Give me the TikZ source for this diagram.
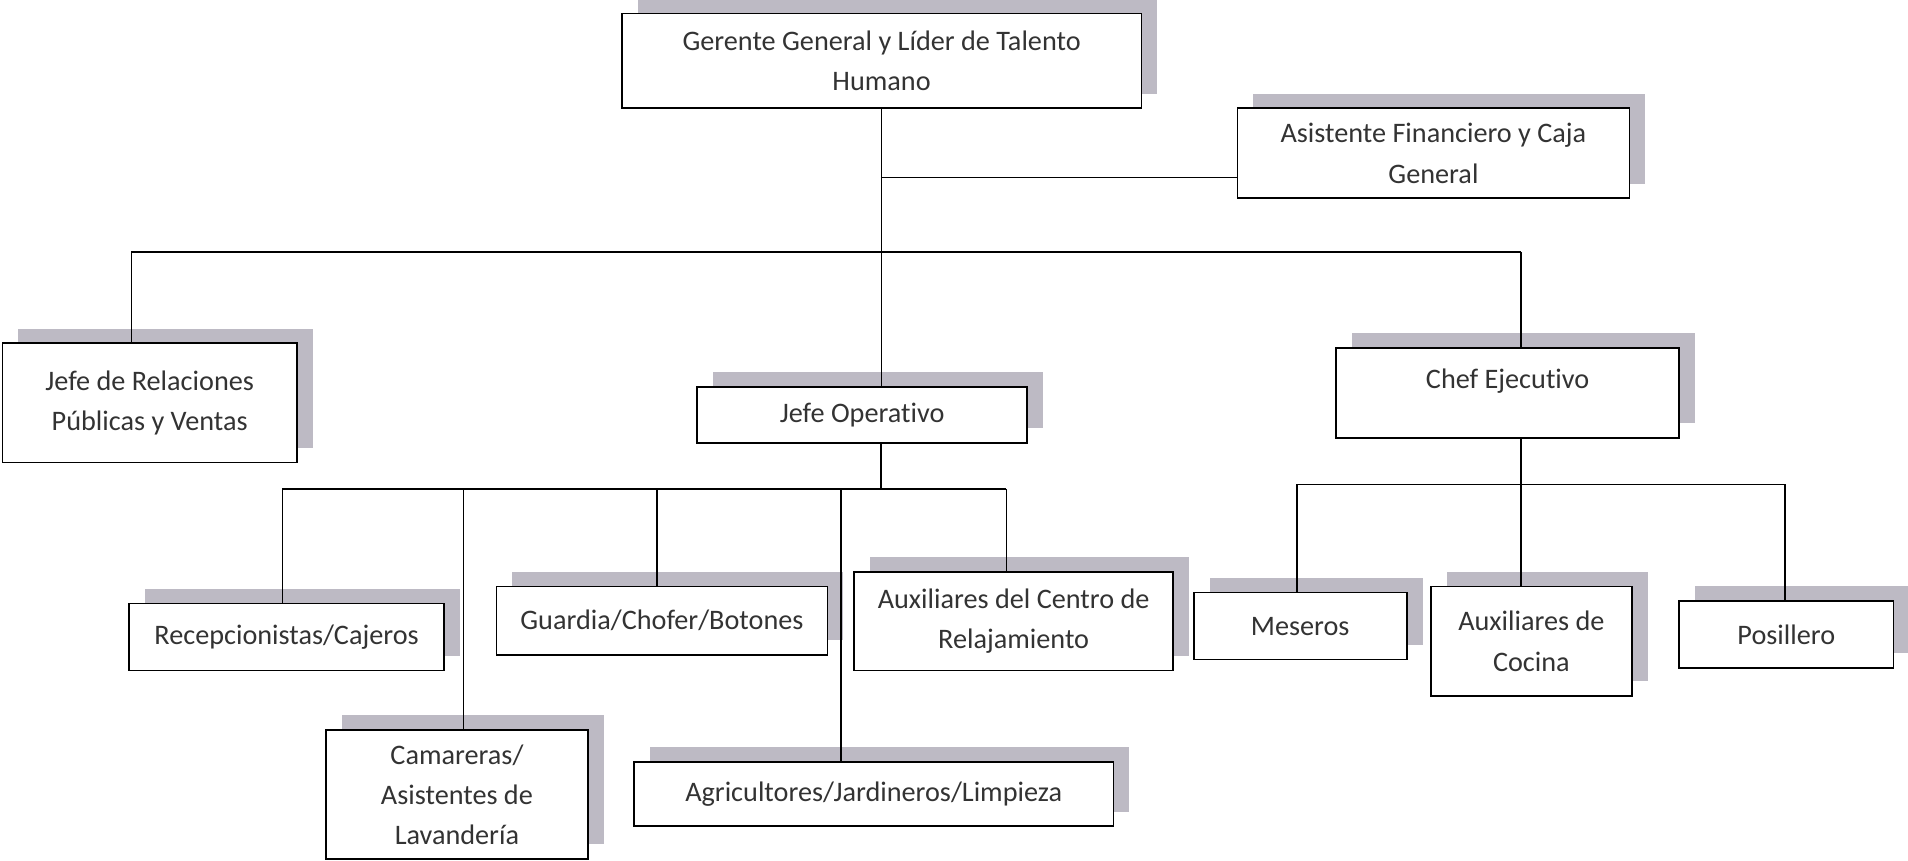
\documentclass[tikz,border=0pt]{standalone}
\usepackage{fontspec}
\setmainfont{Carlito}[Ligatures=NoCommon]
\usetikzlibrary{shadows}
\definecolor{cS}{rgb}{0.74, 0.73, 0.77}
\definecolor{cT}{rgb}{0.2, 0.2, 0.2}
\newcommand{\cajafont}{\fontsize{16.5}{23.5}\selectfont}
\tikzset{caja/.style={
  shape=rectangle,
  draw=black,
  fill=white,
  line width=1pt,
  align=center,
  inner sep=0pt,
  text=cT,
  font=\cajafont,
  general shadow={fill=cS, shadow xshift=0.325cm, shadow yshift=0.3cm},
  }
}
\tikzset{linea/.style={
  draw=black,
  line width=0.8pt,
  }
}

\begin{document}
\begin{tikzpicture}[x=0.025cm, y=-0.025cm]
  \useasboundingbox (0,0) rectangle (1568,707);

  \node [caja, minimum width=10.675cm, minimum height=1.95cm] (gerente) at (724.5,50) {Gerente General y Líder de Talento\\Humano};
  \node [caja, minimum width=8.05cm, minimum height=1.85cm] (asistente) at (1178,126) {Asistente Financiero y Caja\\General};
  \node [caja, minimum width=6.05cm, minimum height=2.45cm] (relaciones) at (123,331) {Jefe de Relaciones\\Públicas y Ventas};
  \node [caja, minimum width=6.775cm, minimum height=1.15cm] (operativo) at (708.5,341) {Jefe Operativo};
  \node [caja, minimum width=7.05cm, minimum height=1.85cm] (chef) at (1239,323) {Chef Ejecutivo\\[-7pt] \mbox{}};

  \node [caja, minimum width=6.475cm, minimum height=1.375cm] (recepcion) at (235.5,523.5) {Recepcionistas/Cajeros};
  \node [caja, minimum width=6.8cm, minimum height=1.4cm] (guardia) at (544,510) {Guardia/Chofer/Botones};
  \node [caja, minimum width=6.55cm, minimum height=2.025cm] (relajamiento) at (833,510.5) {Auxiliares del Centro de\\Relajamiento};
  \node [caja, minimum width=5.375cm, minimum height=2.65cm] (camareras) at (375.5,653) {Camareras/\\Asistentes de\\Lavandería};
  \node [caja, minimum width=9.85cm, minimum height=1.325cm] (agricultores) at (718,652.5) {Agricultores/Jardineros/Limpieza};

  \node [caja, minimum width=4.375cm, minimum height=1.375cm] (meseros) at (1068.5,514.5) {Meseros};
  \node [caja, minimum width=4.125cm, minimum height=2.25cm] (cocina) at (1258.5,527) {Auxiliares de\\Cocina};
  \node [caja, minimum width=4.4cm, minimum height=1.375cm] (posillero) at (1468,521.5) {Posillero};

  \coordinate (g1) at (724,146);
  \coordinate (g2) at (724,207);
  \coordinate (b1) at (108,207);
  \coordinate (b2) at (1250,207);
  \draw [linea] (gerente.south) -- (gerente.south |- operativo.north);
  \draw [linea] (g1) -- (g1 -| asistente.west);
  \draw [linea] (b1) -- (b2);
  \draw [linea] (b1) -- (b1 |- relaciones.north);
  \draw [linea] (b2) -- (b2 |- chef.north);

  \coordinate (o1) at (724,402);
  \draw [linea] (o1 |- operativo.south) -- (o1);
  \foreach \x/\n in {232/recepcion, 381/camareras, 540/guardia, 691/agricultores, 827/relajamiento} {
    \coordinate (o-\n) at (\x,402);
    \draw [linea] (o-\n) -- (o-\n |- \n.north);
  }
  \draw [linea] (o-recepcion) -- (o-relajamiento);

  \coordinate (c1) at (1250,398);
  \draw [linea] (c1 |- chef.south) -- (c1);
  \foreach \x/\n in {1066/meseros, 1250/cocina, 1467/posillero} {
    \coordinate (c-\n) at (\x,398);
    \draw [linea] (c-\n) -- (c-\n |- \n.north);
  }
  \draw [linea] (c-meseros) -- (c-posillero);
\end{tikzpicture}
\end{document}
